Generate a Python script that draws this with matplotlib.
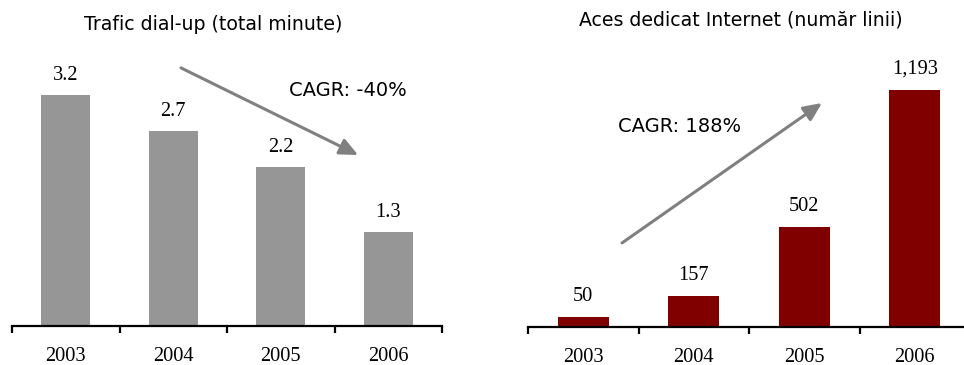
import matplotlib
matplotlib.use('Agg')
import matplotlib.pyplot as plt
import numpy as np

# data
years = ['2003', '2004', '2005', '2006']
dialup = [3.2, 2.7, 2.2, 1.3]
dialup_labels = ['3.2', '2.7', '2.2', '1.3']
dedicated = [50, 157, 502, 1193]
dedicated_labels = ['50', '157', '502', '1,193']

title_left = 'Trafic dial-up (total minute)'
title_right = 'Aces dedicat Internet (număr linii)'
cagr_left = 'CAGR: -40%'
cagr_right = 'CAGR: 188%'

fig = plt.figure(figsize=(9.64, 3.65), dpi=100)

serif = 'Liberation Serif'
sans = 'DejaVu Sans'


def style_axis(ax):
    for s in ['top', 'right', 'left']:
        ax.spines[s].set_visible(False)
    ax.spines['bottom'].set_linewidth(1.6)
    ax.set_yticks([])
    x = np.arange(len(years))
    ax.set_xticks(x)
    ax.set_xticklabels(years, fontfamily=serif, fontsize=14.7)
    ax.tick_params(axis='x', which='major', length=0, pad=15)
    ax.set_xticks(np.arange(len(years) + 1) - 0.5, minor=True)
    ax.tick_params(axis='x', which='minor', length=5, width=1.6, direction='out')
    ax.set_xlim(-0.5, len(years) - 0.5)


arrow = dict(arrowstyle='-|>,head_length=0.55,head_width=0.25',
             mutation_scale=20, lw=2.2, color='#808080', shrinkA=0, shrinkB=0)

# left chart
ax1 = fig.add_axes([12 / 964, 39 / 365, 430 / 964, 286 / 365])
x = np.arange(len(years))
b1 = ax1.bar(x, dialup, width=0.46, color='#969696')
ax1.bar_label(b1, labels=dialup_labels, padding=7, fontfamily=serif, fontsize=14.7)
ax1.set_ylim(0, 3.956)
style_axis(ax1)
ax1.annotate('', xy=(2.72, 2.365), xytext=(1.072, 3.57), arrowprops=arrow)
ax1.text(2.077, 3.26, cagr_left, fontfamily=sans, fontsize=14, va='center', ha='left')
fig.text(213 / 964, 1 - 24 / 365, title_left, fontfamily=sans, fontsize=13.6,
         ha='center', va='center')

# right chart
ax2 = fig.add_axes([528 / 964, 38 / 365, 442 / 964, 286 / 365])
b2 = ax2.bar(x, dedicated, width=0.46, color='#800000')
ax2.bar_label(b2, labels=dedicated_labels, padding=8, fontfamily=serif, fontsize=14.7)
ax2.set_ylim(0, 1439)
style_axis(ax2)
ax2.annotate('', xy=(2.16, 1127), xytext=(0.351, 423), arrowprops=arrow)
ax2.text(0.314, 1011, cagr_right, fontfamily=sans, fontsize=14, va='center', ha='left')
fig.text(741 / 964, 1 - 20 / 365, title_right, fontfamily=sans, fontsize=13.6,
         ha='center', va='center')

fig.savefig('out.png', dpi=100)
